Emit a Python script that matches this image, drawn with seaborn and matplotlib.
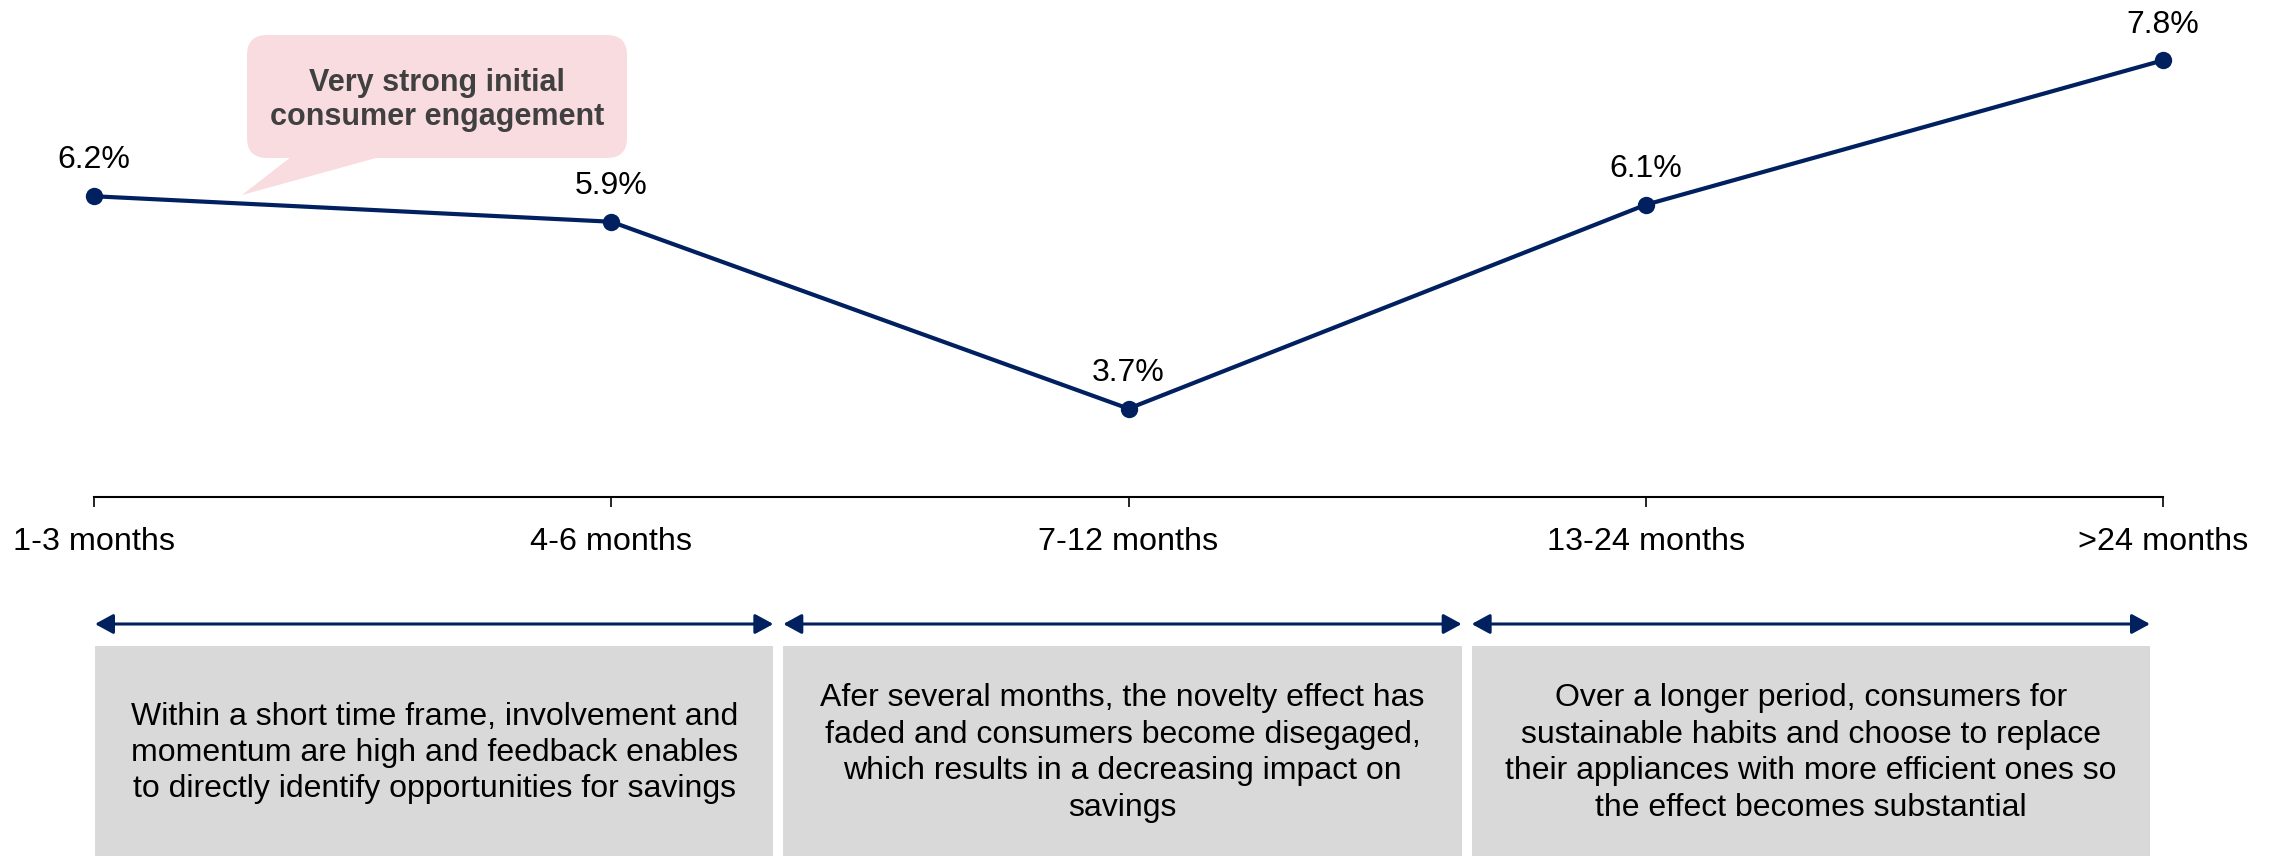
import matplotlib
matplotlib.use("Agg")
import matplotlib.pyplot as plt
import numpy as np
import pandas as pd
import seaborn as sns
from matplotlib.patches import FancyBboxPatch, Polygon, Rectangle, FancyArrowPatch

# ---- data -------------------------------------------------------------
periods = ["1-3 months", "4-6 months", "7-12 months", "13-24 months", ">24 months"]
savings_pct = [6.2, 5.9, 3.7, 6.1, 7.8]

phase_notes = [
    "Within a short time frame, involvement and\nmomentum are high and feedback enables\nto directly identify opportunities for savings",
    "Afer several months, the novelty effect has\nfaded and consumers become disegaged,\nwhich results in a decreasing impact on\nsavings",
    "Over a longer period, consumers for\nsustainable habits and choose to replace\ntheir appliances with more efficient ones so\nthe effect becomes substantial",
]
callout_text = "Very strong initial\nconsumer engagement"

# ---- style ------------------------------------------------------------
sns.set_style("white")
plt.rcParams["font.family"] = ["Liberation Sans", "DejaVu Sans"]

NAVY = "#002060"
GREY_BOX = "#D9D9D9"
PINK = "#F8DCE0"
W, H = 2272, 856

fig = plt.figure(figsize=(W / 100, H / 100), dpi=100)

# full-figure canvas (pixel units) for the callout and the phase panels
ov = fig.add_axes([0, 0, 1, 1])
ov.set_xlim(0, W)
ov.set_ylim(H, 0)
ov.axis("off")
ov.set_zorder(0)

# main line chart
ax = fig.add_axes([94 / W, 1 - 497 / H, (2163 - 94) / W, 497 / H])
ax.set_zorder(1)
ax.patch.set_visible(False)

df = pd.DataFrame({"period": np.arange(len(periods)), "savings": savings_pct})
sns.lineplot(data=df, x="period", y="savings", ax=ax, color=NAVY,
             linewidth=3.0, marker="o", markersize=12.5,
             markeredgewidth=0, markerfacecolor=NAVY)
for ln in ax.lines:
    ln.set_clip_on(False)

ax.set_xlim(0, len(periods) - 1)
ax.set_ylim(2.66, 8.51)
ax.set_xticks(df["period"])
ax.set_xticklabels(periods, fontsize=23.3, color="black")
ax.set_yticks([])
ax.set_xlabel("")
ax.set_ylabel("")
for side in ("left", "top", "right"):
    ax.spines[side].set_visible(False)
ax.spines["bottom"].set_color("black")
ax.spines["bottom"].set_linewidth(1.5)
ax.tick_params(axis="x", direction="out", length=7, width=1.2,
               color="black", pad=14.5, bottom=True)

for x, v in zip(df["period"], df["savings"]):
    ax.annotate(f"{v:.1f}%", (x, v), xytext=(0, 20), textcoords="offset points",
                ha="center", va="baseline", fontsize=23, color="black")

# callout bubble
ov.add_patch(Polygon([(300, 150), (405, 150), (242, 195)], closed=True,
                     facecolor=PINK, edgecolor="none"))
ov.add_patch(FancyBboxPatch((247, 35), 380, 123,
                            boxstyle="round,pad=0,rounding_size=20",
                            facecolor=PINK, edgecolor="none"))
ov.text(437, 100, callout_text, ha="center", va="center", fontsize=22,
        fontweight="bold", color="#404040", linespacing=1.15)

# phase panels with double-headed arrows
left, right, gap = 95, 2150, 10
box_w = (right - left - 2 * gap) / 3
arrow_y, box_top = 624, 646
for i, note in enumerate(phase_notes):
    x0 = left + i * (box_w + gap)
    ov.add_patch(FancyArrowPatch((x0, arrow_y), (x0 + box_w, arrow_y),
                                 arrowstyle="<|-|>,head_length=0.55,head_width=0.3",
                                 mutation_scale=20, color=NAVY, linewidth=2.2,
                                 shrinkA=0, shrinkB=0))
    ov.add_patch(Rectangle((x0, box_top), box_w, H - box_top + 5,
                           facecolor=GREY_BOX, edgecolor="none"))
    ov.text(x0 + box_w / 2, 753, note, ha="center", va="center", fontsize=23,
            color="black", linespacing=1.28)

fig.savefig("out.png", dpi=100)
